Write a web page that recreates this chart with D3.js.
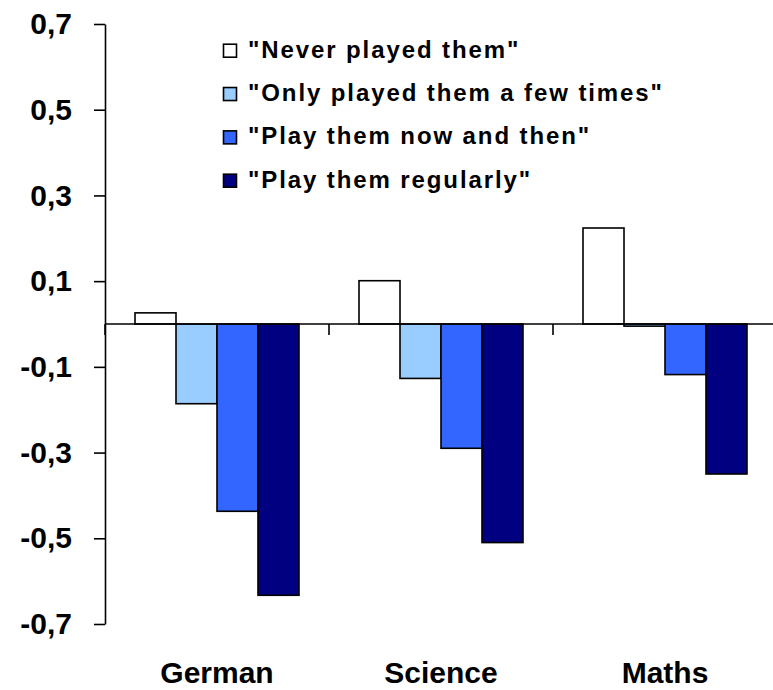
<!DOCTYPE html>
<html>
<head>
<meta charset="utf-8">
<script src="https://cdn.jsdelivr.net/npm/d3@7"></script>
<style>
  html, body { margin: 0; padding: 0; background: #fff; }
  svg { display: block; font-family: "Liberation Sans", Arial, sans-serif; }
</style>
</head>
<body>
<svg id="chart" width="773" height="690"></svg>
<script>
const categories = ["German", "Science", "Maths"];
const seriesNames = [
  "\"Never played them\"",
  "\"Only played them a few times\"",
  "\"Play them now and then\"",
  "\"Play them regularly\""
];
const seriesColors = ["#FFFFFF", "#99CCFF", "#3366FF", "#000080"];
const neverPlayed = [0.026, 0.101, 0.224];
const fewTimes = [-0.186, -0.127, -0.005];
const nowAndThen = [-0.437, -0.290, -0.118];
const regularly = [-0.633, -0.510, -0.350];
const seriesValues = [neverPlayed, fewTimes, nowAndThen, regularly];
const yTickValues = [0.7, 0.5, 0.3, 0.1, -0.1, -0.3, -0.5, -0.7];

const svg = d3.select("#chart");

const locale = d3.formatLocale({decimal: ",", thousands: ".", grouping: [3], currency: ["", "€"], minus: "-"});
const fmt = locale.format(".1f");

const y = d3.scaleLinear().domain([-0.7, 0.7]).range([624, 24]);
const x0 = d3.scaleBand().domain(categories).range([105, 777]).padding(0);
const x1 = d3.scaleBand().domain(d3.range(seriesNames.length))
  .range([0, x0.bandwidth()]).paddingInner(0).paddingOuter(0.732);

// bars
const data = [];
categories.forEach((c, ci) => {
  seriesValues.forEach((vals, si) => {
    data.push({cat: c, s: si, v: vals[ci]});
  });
});

svg.append("g").selectAll("rect").data(data).join("rect")
  .attr("x", d => x0(d.cat) + x1(d.s))
  .attr("width", x1.bandwidth())
  .attr("y", d => y(Math.max(0, d.v)))
  .attr("height", d => Math.max(1, Math.abs(y(d.v) - y(0))))
  .attr("fill", d => seriesColors[d.s])
  .attr("stroke", "#000")
  .attr("stroke-width", 1.6);

// y axis
const yAxis = d3.axisLeft(y).tickValues(yTickValues).tickFormat(fmt)
  .tickSize(11).tickPadding(22).tickSizeOuter(0);
const gy = svg.append("g").attr("transform", "translate(105,0)").call(yAxis);
gy.select(".domain").attr("stroke", "#000").attr("stroke-width", 1.6);
gy.selectAll(".tick line").attr("stroke", "#000").attr("stroke-width", 1.6);
gy.selectAll(".tick text")
  .attr("font-size", 30).attr("font-weight", "bold")
  .attr("font-family", "Liberation Sans, Arial, sans-serif")
  .attr("fill", "#000");

// x axis at zero
const zy = y(0);
svg.append("line")
  .attr("x1", 105).attr("x2", 777)
  .attr("y1", zy).attr("y2", zy)
  .attr("stroke", "#000").attr("stroke-width", 1.6);
const boundaries = categories.map(c => x0(c)).concat([x0(categories[categories.length - 1]) + x0.bandwidth()]);
svg.append("g").selectAll("line").data(boundaries).join("line")
  .attr("x1", d => d).attr("x2", d => d)
  .attr("y1", zy).attr("y2", zy + 11)
  .attr("stroke", "#000").attr("stroke-width", 1.6);

// category labels
svg.append("g").selectAll("text").data(categories).join("text")
  .attr("x", d => x0(d) + x0.bandwidth() / 2)
  .attr("y", 683)
  .attr("text-anchor", "middle")
  .attr("font-size", 30).attr("font-weight", "bold")
  .attr("fill", "#000")
  .text(d => d);

// legend
const leg = svg.append("g");
const rowY = d3.scaleLinear().domain([0, 3]).range([57.7, 187.7]);
seriesNames.forEach((name, i) => {
  const by = rowY(i);
  leg.append("rect")
    .attr("x", 223.5).attr("y", by - 13.5)
    .attr("width", 13).attr("height", 13)
    .attr("fill", seriesColors[i])
    .attr("stroke", "#000").attr("stroke-width", 1.6);
  leg.append("text")
    .attr("x", 248).attr("y", by)
    .attr("font-size", 24).attr("font-weight", "bold")
    .attr("letter-spacing", 1.9)
    .attr("fill", "#000")
    .text(name);
});
</script>
</body>
</html>
